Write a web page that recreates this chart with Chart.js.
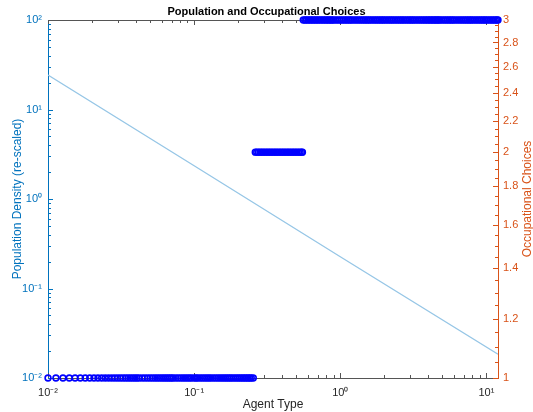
<!DOCTYPE html>
<html lang="en">
<head>
<meta charset="UTF-8">
<title>Population and Occupational Choices</title>
<script src="https://cdn.jsdelivr.net/npm/chart.js@4.4.0/dist/chart.umd.min.js"></script>
<style>
  body { margin: 0; background: #fff; }
  #wrap { width: 533px; height: 412px; }
</style>
</head>
<body>
<div id="wrap"><canvas id="chart"></canvas></div>
<script>
// population density (left axis, log)
var agentX = [0.01, 0.1, 1, 12];
var density = [24.3, 2.35, 0.226, 0.0184];

// occupational choice levels (right axis) and the agent types that pick them
var choiceLevels = [1, 2, 3];
var choice1X = [0.01, 0.01133, 0.01266, 0.01399, 0.01532, 0.01665, 0.01798, 0.01931, 0.02064, 0.02197,
  0.0233, 0.02463, 0.02596, 0.02729, 0.02862, 0.02995, 0.03128, 0.03261, 0.03394, 0.03527, 0.0366,
  0.03793, 0.03926, 0.04059, 0.042, 0.044, 0.046, 0.048, 0.05, 0.052, 0.054, 0.056, 0.058, 0.06,
  0.062, 0.064, 0.066, 0.068, 0.07, 0.072, 0.075, 0.078, 0.081, 0.084, 0.087, 0.09, 0.093, 0.096,
  0.1, 0.103, 0.106, 0.11, 0.114, 0.118, 0.122, 0.126, 0.13, 0.135, 0.14, 0.145, 0.15, 0.155, 0.16,
  0.165, 0.17, 0.175, 0.18, 0.186, 0.192, 0.198, 0.204, 0.21, 0.216, 0.222, 0.228, 0.234, 0.24,
  0.246, 0.254];
var choice2X = [0.262, 0.268, 0.275, 0.282, 0.289, 0.296, 0.304, 0.312, 0.32, 0.328, 0.336, 0.345,
  0.354, 0.363, 0.372, 0.382, 0.392, 0.402, 0.412, 0.423, 0.434, 0.445, 0.456, 0.468, 0.48, 0.492,
  0.505, 0.518, 0.531, 0.544, 0.551];
var choice3X = [0.558, 0.572, 0.587, 0.602, 0.618, 0.634, 0.65, 0.667, 0.684, 0.702, 0.72, 0.74, 0.76,
  0.78, 0.8, 0.82, 0.84, 0.86, 0.88, 0.9, 0.93, 0.96, 0.99, 1.02, 1.05, 1.08, 1.11, 1.14, 1.17, 1.2,
  1.24, 1.28, 1.32, 1.36, 1.4, 1.44, 1.48, 1.52, 1.56, 1.6, 1.65, 1.7, 1.75, 1.8, 1.85, 1.9, 1.95,
  2.0, 2.06, 2.12, 2.18, 2.24, 2.3, 2.37, 2.44, 2.51, 2.58, 2.65, 2.72, 2.8, 2.88, 2.96, 3.04, 3.12,
  3.2, 3.3, 3.4, 3.5, 3.6, 3.7, 3.8, 3.9, 4.0, 4.1, 4.2, 4.3, 4.4, 4.5, 4.6, 4.7, 4.8, 4.95, 5.1,
  5.25, 5.4, 5.55, 5.7, 5.85, 6.0, 6.2, 6.4, 6.6, 6.8, 7.0, 7.2, 7.4, 7.6, 7.8, 8.0, 8.25, 8.5,
  8.75, 9.0, 9.25, 9.5, 9.75, 10.0, 10.3, 10.6, 10.9, 11.2, 11.5, 11.8, 12.0];

// ticks
var xTicks = [0.01, 0.1, 1, 10];
var xTickLabels = ['10⁻²', '10⁻¹', '10⁰', '10¹'];
var yTicks = [0.01, 0.1, 1, 10, 100];
var yTickLabels = ['10⁻²', '10⁻¹', '10⁰', '10¹', '10²'];
var y2Ticks = [1, 1.2, 1.4, 1.6, 1.8, 2, 2.2, 2.4, 2.6, 2.8, 3];
var y2TickLabels = ['1', '1.2', '1.4', '1.6', '1.8', '2', '2.2', '2.4', '2.6', '2.8', '3'];
var y2Title = 'Occupational Choices';

var BLUE_AXIS = '#0072bd';
var ORANGE = '#d95319';
var FONT = 'Helvetica, "Liberation Sans", Arial, sans-serif';

function toPoints(xs, level) {
  return xs.map(function (x) { return { x: x, y: level }; });
}

function logMinors(min, max) {
  var out = [];
  for (var d = Math.pow(10, Math.floor(Math.log10(min))); d < max; d *= 10) {
    for (var k = 1; k < 10; k++) {
      var v = d * k;
      if (v >= min * 0.999 && v <= max * 1.001) out.push(v);
    }
  }
  return out;
}

// MATLAB style inward tick marks, top frame line and the right axis title
var tickMarks = {
  id: 'tickMarks',
  beforeDatasetsDraw: function (chart) {
    var ctx = chart.ctx, a = chart.chartArea;
    var sx = chart.scales.x, sy = chart.scales.y, sy2 = chart.scales.y2;
    ctx.save();
    ctx.lineWidth = 1;

    ctx.strokeStyle = '#555';
    ctx.beginPath();
    ctx.moveTo(a.left, a.top + 0.5);
    ctx.lineTo(a.right, a.top + 0.5);
    ctx.stroke();

    ctx.beginPath();
    logMinors(0.01, 12).forEach(function (v) {
      var len = xTicks.indexOf(v) >= 0 ? 5 : 3;
      var px = Math.round(sx.getPixelForValue(v)) + 0.5;
      ctx.moveTo(px, a.bottom); ctx.lineTo(px, a.bottom - len);
      ctx.moveTo(px, a.top); ctx.lineTo(px, a.top + len);
    });
    ctx.stroke();

    ctx.strokeStyle = BLUE_AXIS;
    ctx.beginPath();
    logMinors(0.01, 100).forEach(function (v) {
      var len = yTicks.indexOf(v) >= 0 ? 5 : 3;
      var py = Math.round(sy.getPixelForValue(v)) + 0.5;
      ctx.moveTo(a.left, py); ctx.lineTo(a.left + len, py);
    });
    ctx.stroke();

    ctx.strokeStyle = ORANGE;
    ctx.beginPath();
    for (var i = 0; i <= 40; i++) {
      var v = 1 + i * 0.05;
      var major = i % 4 === 0;
      var py = Math.round(sy2.getPixelForValue(v)) + 0.5;
      ctx.moveTo(a.right, py); ctx.lineTo(a.right - (major ? 5 : 3), py);
    }
    ctx.stroke();

    ctx.translate(sy2.right - 5, (a.top + a.bottom) / 2);
    ctx.rotate(-Math.PI / 2);
    ctx.fillStyle = ORANGE;
    ctx.font = '12px ' + FONT;
    ctx.textAlign = 'center';
    ctx.textBaseline = 'middle';
    ctx.fillText(y2Title, 0, 0);
    ctx.restore();
  }
};

var choiceStyle = {
  yAxisID: 'y2',
  showLine: false,
  pointStyle: 'circle',
  pointRadius: 2.9,
  pointBorderWidth: 1.6,
  pointBorderColor: '#0000ff',
  pointBackgroundColor: 'rgba(0,0,0,0)',
  clip: false
};

new Chart(document.getElementById('chart'), {
  type: 'scatter',
  data: {
    datasets: [
      {
        label: 'Population Density',
        data: agentX.map(function (x, i) { return { x: x, y: density[i] }; }),
        yAxisID: 'y',
        showLine: true,
        borderColor: '#96c6e6',
        borderWidth: 1.3,
        pointRadius: 0
      },
      Object.assign({ label: 'Choice 1', data: toPoints(choice1X, choiceLevels[0]) }, choiceStyle),
      Object.assign({ label: 'Choice 2', data: toPoints(choice2X, choiceLevels[1]) }, choiceStyle),
      Object.assign({ label: 'Choice 3', data: toPoints(choice3X, choiceLevels[2]) }, choiceStyle)
    ]
  },
  options: {
    responsive: true,
    maintainAspectRatio: false,
    animation: false,
    devicePixelRatio: 1,
    layout: { padding: 0 },
    plugins: {
      legend: { display: false },
      tooltip: { enabled: false },
      title: {
        display: true,
        text: 'Population and Occupational Choices',
        color: '#000',
        font: { family: FONT, size: 11, weight: 'bold' },
        padding: { top: 5, bottom: 1.8 }
      }
    },
    scales: {
      x: {
        type: 'logarithmic',
        position: 'bottom',
        min: 0.01,
        max: 12,
        afterFit: function (s) { s.height = 34; },
        afterBuildTicks: function (s) { s.ticks = xTicks.map(function (v) { return { value: v }; }); },
        grid: { display: false, drawTicks: false },
        border: { display: true, color: '#555', width: 1 },
        ticks: {
          autoSkip: false, maxRotation: 0, padding: 8, color: '#262626',
          font: { family: FONT, size: 11 },
          callback: function (v, i) { return xTickLabels[i]; }
        },
        title: {
          display: true, text: 'Agent Type', color: '#262626',
          font: { family: FONT, size: 12 }, padding: { top: 0, bottom: 0 }
        }
      },
      y: {
        type: 'logarithmic',
        position: 'left',
        min: 0.01,
        max: 100,
        afterFit: function (s) { s.width = 48; },
        afterBuildTicks: function (s) { s.ticks = yTicks.map(function (v) { return { value: v }; }); },
        grid: { display: false, drawTicks: false },
        border: { display: true, color: BLUE_AXIS, width: 1 },
        ticks: {
          autoSkip: false, padding: 6, color: BLUE_AXIS,
          font: { family: FONT, size: 11 },
          callback: function (v, i) { return yTickLabels[i]; }
        },
        title: {
          display: true, text: 'Population Density (re-scaled)', color: BLUE_AXIS,
          font: { family: FONT, size: 12 }, padding: { top: 10, bottom: 0 }
        }
      },
      y2: {
        type: 'logarithmic',
        position: 'right',
        min: 1,
        max: 3,
        afterFit: function (s) { s.width = 35; },
        afterBuildTicks: function (s) { s.ticks = y2Ticks.map(function (v) { return { value: v }; }); },
        grid: { display: false, drawTicks: false },
        border: { display: true, color: ORANGE, width: 1 },
        ticks: {
          autoSkip: false, padding: 5, color: ORANGE,
          font: { family: FONT, size: 11 },
          callback: function (v, i) { return y2TickLabels[i]; }
        },
        title: { display: false }
      }
    }
  },
  plugins: [tickMarks]
});
</script>
</body>
</html>
